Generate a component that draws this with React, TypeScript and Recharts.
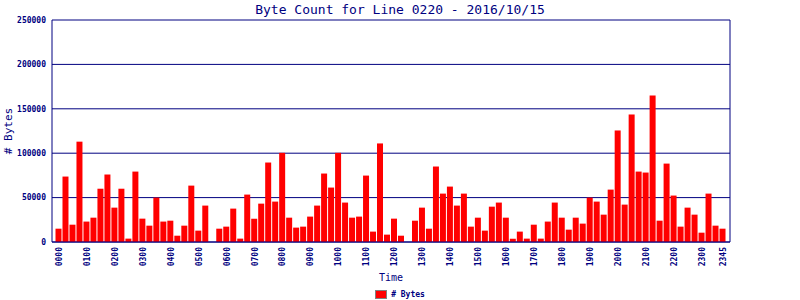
import React from "react";
import {
  BarChart,
  Bar,
  XAxis,
  YAxis,
  CartesianGrid,
  Legend,
} from "recharts";

const NAVY = "#000080";
const FONT = "'DejaVu Sans Mono', 'Liberation Mono', monospace";

const times = [
  "0000", "0015", "0030", "0045", "0100", "0115", "0130", "0145",
  "0200", "0215", "0230", "0245", "0300", "0315", "0330", "0345",
  "0400", "0415", "0430", "0445", "0500", "0515", "0530", "0545",
  "0600", "0615", "0630", "0645", "0700", "0715", "0730", "0745",
  "0800", "0815", "0830", "0845", "0900", "0915", "0930", "0945",
  "1000", "1015", "1030", "1045", "1100", "1115", "1130", "1145",
  "1200", "1215", "1230", "1245", "1300", "1315", "1330", "1345",
  "1400", "1415", "1430", "1445", "1500", "1515", "1530", "1545",
  "1600", "1615", "1630", "1645", "1700", "1715", "1730", "1745",
  "1800", "1815", "1830", "1845", "1900", "1915", "1930", "1945",
  "2000", "2015", "2030", "2045", "2100", "2115", "2130", "2145",
  "2200", "2215", "2230", "2245", "2300", "2315", "2330", "2345",
];

const byteCounts = [
  15000, 73700, 19500, 113000, 23000, 27400, 60000, 76000,
  38700, 60000, 3800, 79300, 26300, 18400, 50000, 23000,
  24000, 7100, 18400, 63500, 12800, 41000, 0, 15000,
  17300, 37600, 3800, 53400, 26300, 43200, 89500, 45500,
  100400, 27400, 16200, 17300, 28600, 41000, 77100, 61300,
  100400, 44400, 27400, 28600, 74800, 11700, 111000, 8300,
  26300, 7100, 0, 24000, 38700, 15000, 85000, 54500,
  62400, 41000, 54500, 17300, 27400, 12800, 39800, 44400,
  27400, 3800, 11700, 3800, 19500, 3800, 23000, 44400,
  27400, 13900, 27400, 20700, 50000, 45500, 30800, 59000,
  125600, 42100, 143600, 79300, 78200, 165000, 24000, 88300,
  52300, 17300, 38700, 30800, 10500, 54500, 18400, 15000,
];

const timeTicks = [
  "0000", "0100", "0200", "0300", "0400", "0500", "0600", "0700",
  "0800", "0900", "1000", "1100", "1200", "1300", "1400", "1500",
  "1600", "1700", "1800", "1900", "2000", "2100", "2200", "2300",
  "2345",
];

const yTicks = [0, 50000, 100000, 150000, 200000, 250000];

const data = times.map((t, i) => ({ time: t, bytes: byteCounts[i] }));

function TimeTick(props: any) {
  const { x, y, payload } = props;
  if (!timeTicks.includes(payload.value)) return <g />;
  return (
    <text
      x={x}
      y={y}
      transform={`rotate(-90, ${x}, ${y})`}
      textAnchor="end"
      dy="0.35em"
      fill={NAVY}
      fontSize={8}
      fontWeight="bold"
      fontFamily={FONT}
    >
      {payload.value}
    </text>
  );
}

function BytesLabel(props: any) {
  const vb = props.viewBox || { x: 0, y: 20, width: 52, height: 222 };
  const cx = 8;
  const cy = vb.y + vb.height / 2;
  return (
    <text
      x={cx}
      y={cy}
      transform={`rotate(-90, ${cx}, ${cy})`}
      textAnchor="middle"
      dominantBaseline="central"
      fill={NAVY}
      fontSize={11}
      fontFamily={FONT}
    >
      # Bytes
    </text>
  );
}

function LegendBox() {
  return (
    <div
      style={{
        display: "flex",
        justifyContent: "center",
        alignItems: "center",
        paddingTop: 6,
        fontFamily: FONT,
        fontSize: 8,
        fontWeight: "bold",
        color: NAVY,
      }}
    >
      <span
        style={{
          display: "inline-block",
          width: 10,
          height: 7,
          background: "#ff0000",
          border: "1px solid #808080",
          marginRight: 4,
        }}
      />
      <span># Bytes</span>
    </div>
  );
}

export default function App() {
  return (
    <div
      style={{
        position: "absolute",
        left: 0,
        top: 0,
        width: 800,
        height: 300,
        background: "#ffffff",
      }}
    >
      <div
        style={{
          position: "absolute",
          top: 0,
          left: 0,
          width: 800,
          lineHeight: "20px",
          textAlign: "center",
          fontFamily: FONT,
          fontSize: 13,
          color: NAVY,
        }}
      >
        Byte Count for Line 0220 - 2016/10/15
      </div>
      <BarChart
        width={800}
        height={300}
        data={data}
        margin={{ top: 20, right: 69, bottom: 0, left: 0 }}
        barCategoryGap={0}
      >
        <CartesianGrid
          yAxisId="left"
          vertical={false}
          stroke={NAVY}
          strokeWidth={1}
        />
        <XAxis
          dataKey="time"
          interval={0}
          tick={<TimeTick />}
          tickLine={false}
          tickSize={3}
          tickMargin={2}
          height={42}
          padding={{ left: 3.5, right: 3.5 }}
          axisLine={{ stroke: NAVY, strokeWidth: 1 }}
          label={{
            value: "Time",
            position: "insideBottom",
            offset: 3,
            fill: NAVY,
            fontSize: 10,
            fontFamily: FONT,
          }}
        />
        <YAxis
          yAxisId="left"
          width={52}
          domain={[0, 250000]}
          ticks={yTicks}
          interval={0}
          tickLine={false}
          tickSize={4}
          tickMargin={2}
          axisLine={{ stroke: NAVY, strokeWidth: 1 }}
          tick={{ fill: NAVY, fontSize: 8, fontWeight: "bold", fontFamily: FONT }}
          label={<BytesLabel />}
        />
        <YAxis
          yAxisId="right"
          orientation="right"
          width={1}
          domain={[0, 250000]}
          tick={false}
          tickLine={false}
          axisLine={{ stroke: NAVY, strokeWidth: 1 }}
        />
        <Legend
          verticalAlign="bottom"
          height={16}
          content={<LegendBox />}
          wrapperStyle={{ left: 0, width: 800 }}
        />
        <Bar
          yAxisId="left"
          dataKey="bytes"
          name="# Bytes"
          fill="#ff0000"
          barSize={6}
          isAnimationActive={false}
        />
      </BarChart>
    </div>
  );
}
